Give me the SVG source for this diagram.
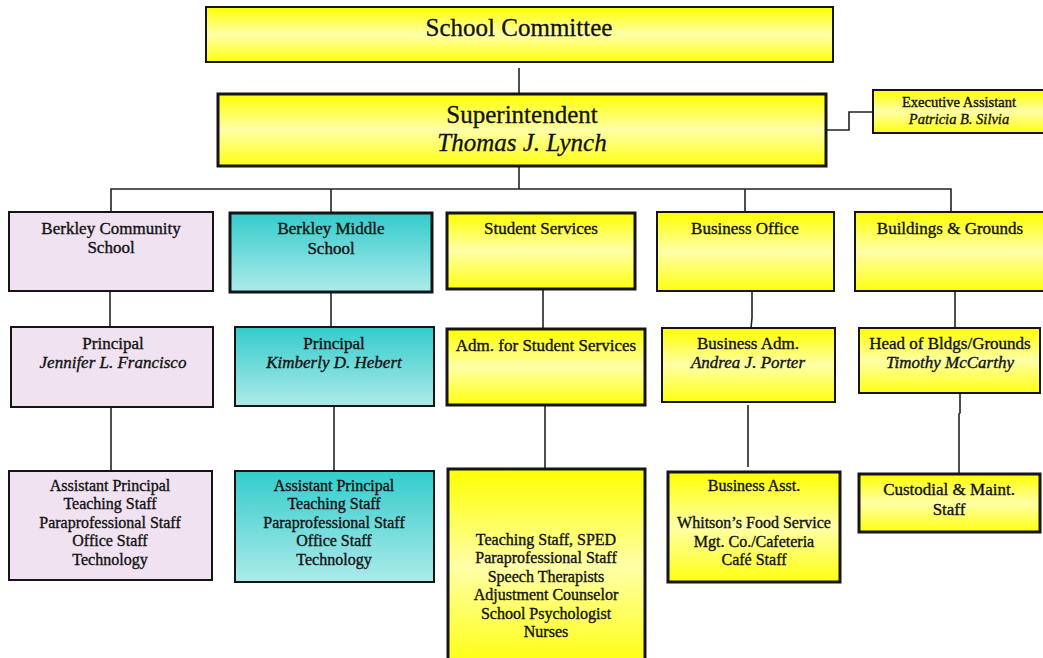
<svg xmlns="http://www.w3.org/2000/svg" width="1043" height="658" viewBox="0 0 1043 658">
  <defs>
    <linearGradient id="gYellow" x1="0" y1="0" x2="0" y2="1">
      <stop offset="0" stop-color="#FFFF00"/>
      <stop offset="0.5" stop-color="#FFFFA8"/>
      <stop offset="1" stop-color="#FFFF10"/>
    </linearGradient>
    <linearGradient id="gTeal" x1="0" y1="0" x2="0" y2="1">
      <stop offset="0" stop-color="#33CCCC"/>
      <stop offset="1" stop-color="#AEEAEA"/>
    </linearGradient>
    <style>
      .box { stroke: #151515; stroke-width: 2; }
      .heavy { stroke-width: 3; }
      .yel { fill: url(#gYellow); }
      .teal { fill: url(#gTeal); }
      .lav { fill: #F0E2F1; }
      text { font-family: "Liberation Serif", "Times New Roman", serif; fill: #111; stroke: #111; stroke-width: 0.35; text-anchor: middle; }
      .big { font-size: 25px; stroke-width: 0.3; }
      .hd { font-size: 17px; }
      .sm { font-size: 16px; }
      .xs { font-size: 14.5px; }
      .it { font-style: italic; }
      .conn { stroke: #222; stroke-width: 1.6; fill: none; }
    </style>
  </defs>
  <rect width="1043" height="658" fill="#FFFFFF"/>

  <!-- connectors -->
  <g id="connectors" class="conn">
    <path d="M519 68 V94"/>
    <path d="M826 130 H849 V112 H873"/>
    <path d="M519 166 V189"/>
    <path d="M111 212 V189 H951 V212"/>
    <path d="M331 189 V213"/>
    <path d="M745 189 V212"/>
    <path d="M110 291 V327"/>
    <path d="M331 292 V327"/>
    <path d="M543 284 V329"/>
    <path d="M752 291 V318 L751 328"/>
    <path d="M955 291 V328"/>
    <path d="M111 407 V471"/>
    <path d="M334 406 V471"/>
    <path d="M545 400 V468"/>
    <path d="M748 405 V467"/>
    <path d="M960 393 V413 L959 414 V474"/>
  </g>

  <g id="school-committee">
    <rect class="box yel" x="206" y="7" width="627" height="55"/>
    <text class="big" x="519" y="36">School Committee</text>
  </g>

  <g id="superintendent">
    <rect class="box heavy yel" x="218" y="94" width="608" height="72"/>
    <text class="big" x="522" y="123">Superintendent</text>
    <text class="big it" x="522" y="151">Thomas J. Lynch</text>
  </g>

  <g id="executive-assistant">
    <rect class="box yel" x="873" y="90" width="180" height="43"/>
    <text class="xs" x="959" y="107">Executive Assistant</text>
    <text class="xs it" x="959" y="124">Patricia B. Silvia</text>
  </g>

  <!-- Berkley Community School column -->
  <g id="bcs">
    <rect class="box lav" x="9" y="212" width="204" height="79"/>
    <text class="hd" x="111" y="234">Berkley Community</text>
    <text class="hd" x="111" y="253">School</text>
  </g>
  <g id="bcs-principal">
    <rect class="box lav" x="11" y="327" width="202" height="80"/>
    <text class="hd" x="113" y="349">Principal</text>
    <text class="hd it" x="113" y="368">Jennifer L. Francisco</text>
  </g>
  <g id="bcs-staff">
    <rect class="box lav" x="9" y="471" width="203" height="109"/>
    <text class="sm" x="110" y="491">Assistant Principal</text>
    <text class="sm" x="110" y="509">Teaching Staff</text>
    <text class="sm" x="110" y="528">Paraprofessional Staff</text>
    <text class="sm" x="110" y="546">Office Staff</text>
    <text class="sm" x="110" y="565">Technology</text>
  </g>

  <!-- Berkley Middle School column -->
  <g id="bms">
    <rect class="box heavy teal" x="230" y="213" width="202" height="79"/>
    <text class="hd" x="331" y="234">Berkley Middle</text>
    <text class="hd" x="331" y="254">School</text>
  </g>
  <g id="bms-principal">
    <rect class="box teal" x="235" y="327" width="199" height="79"/>
    <text class="hd" x="334" y="349">Principal</text>
    <text class="hd it" x="334" y="368">Kimberly D. Hebert</text>
  </g>
  <g id="bms-staff">
    <rect class="box teal" x="235" y="471" width="199" height="111"/>
    <text class="sm" x="334" y="491">Assistant Principal</text>
    <text class="sm" x="334" y="509">Teaching Staff</text>
    <text class="sm" x="334" y="528">Paraprofessional Staff</text>
    <text class="sm" x="334" y="546">Office Staff</text>
    <text class="sm" x="334" y="565">Technology</text>
  </g>

  <!-- Student Services column -->
  <g id="student-services">
    <rect class="box heavy yel" x="447" y="213" width="188" height="76"/>
    <text class="hd" x="541" y="234">Student  Services</text>
  </g>
  <g id="adm-student-services">
    <rect class="box heavy yel" x="447" y="329" width="198" height="76"/>
    <text class="hd" x="546" y="351">Adm.  for Student Services</text>
  </g>
  <g id="ss-staff">
    <rect class="box heavy yel" x="448" y="469" width="197" height="195"/>
    <text class="sm" x="546" y="545">Teaching Staff, SPED</text>
    <text class="sm" x="546" y="563">Paraprofessional Staff</text>
    <text class="sm" x="546" y="582">Speech Therapists</text>
    <text class="sm" x="546" y="600">Adjustment Counselor</text>
    <text class="sm" x="546" y="619">School Psychologist</text>
    <text class="sm" x="546" y="637">Nurses</text>
  </g>

  <!-- Business Office column -->
  <g id="business-office">
    <rect class="box yel" x="657" y="212" width="177" height="79"/>
    <text class="hd" x="745" y="234">Business Office</text>
  </g>
  <g id="business-adm">
    <rect class="box yel" x="662" y="328" width="173" height="74"/>
    <text class="hd" x="748" y="349">Business Adm.</text>
    <text class="hd it" x="748" y="368">Andrea J. Porter</text>
  </g>
  <g id="business-staff">
    <rect class="box heavy yel" x="668" y="472" width="172" height="110"/>
    <text class="sm" x="754" y="491">Business Asst.</text>
    <text class="sm" x="754" y="528">Whitson’s Food Service</text>
    <text class="sm" x="754" y="547">Mgt. Co./Cafeteria</text>
    <text class="sm" x="754" y="565">Café Staff</text>
  </g>

  <!-- Buildings & Grounds column -->
  <g id="buildings-grounds">
    <rect class="box yel" x="855" y="212" width="195" height="79"/>
    <text class="hd" x="950" y="234">Buildings &amp; Grounds</text>
  </g>
  <g id="head-bldgs">
    <rect class="box yel" x="859" y="328" width="181" height="65"/>
    <text class="hd" x="950" y="349">Head of Bldgs/Grounds</text>
    <text class="hd it" x="950" y="368">Timothy McCarthy</text>
  </g>
  <g id="custodial">
    <rect class="box heavy yel" x="859" y="474" width="181" height="58"/>
    <text class="hd" x="949" y="495">Custodial &amp; Maint.</text>
    <text class="hd" x="949" y="515">Staff</text>
  </g>
</svg>
